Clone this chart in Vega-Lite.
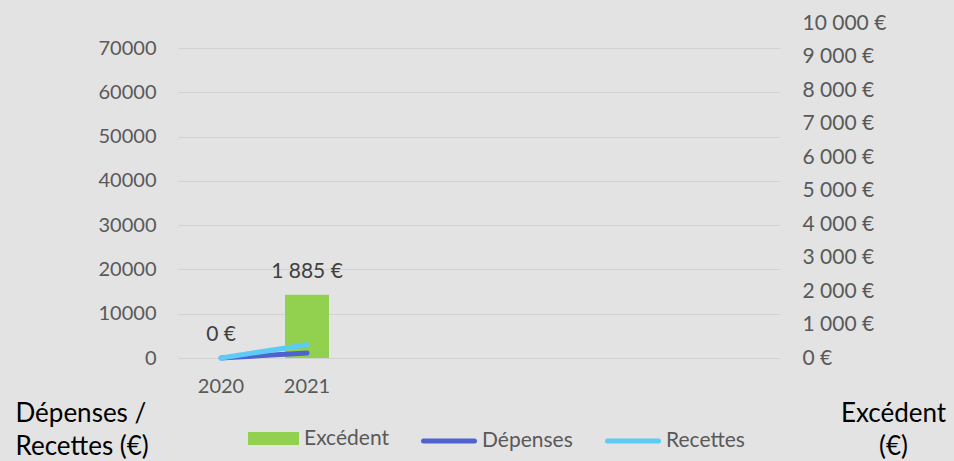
{
  "$schema": "https://vega.github.io/schema/vega-lite/v6.json",
  "width": 602,
  "height": 335,
  "autosize": {"type": "none"},
  "padding": {"left": 178, "top": 23, "right": 174, "bottom": 103},
  "background": "#e3e3e3",
  "config": {
    "font": "Lato",
    "view": {"stroke": null},
    "locale": {"number": {"decimal": ",", "thousands": " ", "grouping": [3], "currency": ["", " €"]}}
  },
  "data": {
    "values": [
      {"year": "2020", "serie": "Excédent", "value": 0},
      {"year": "2021", "serie": "Excédent", "value": 1885},
      {"year": "2020", "serie": "Dépenses", "value": 0},
      {"year": "2021", "serie": "Dépenses", "value": 1115},
      {"year": "2020", "serie": "Recettes", "value": 0},
      {"year": "2021", "serie": "Recettes", "value": 3000}
    ]
  },
  "encoding": {
    "x": {
      "field": "year",
      "type": "ordinal",
      "scale": {"domain": ["2020", "2021", "2022", "2023", "2024", "2025", "2026"], "paddingInner": 0.49, "paddingOuter": 0.245},
      "axis": {
        "title": null,
        "labelAngle": 0,
        "labelExpr": "datum.value <= '2021' ? datum.label : ''",
        "labelFontSize": 20,
        "labelColor": "#595959",
        "labelPadding": 18,
        "domain": false,
        "ticks": false,
        "grid": false
      }
    }
  },
  "layer": [
    {
      "transform": [{"filter": "datum.serie === 'Excédent'"}],
      "encoding": {
        "y": {
          "field": "value",
          "type": "quantitative",
          "scale": {"domain": [0, 10000], "nice": false},
          "axis": {
            "orient": "right",
            "values": [0, 1000, 2000, 3000, 4000, 5000, 6000, 7000, 8000, 9000, 10000],
            "format": "$,d",
            "labelFontSize": 21,
            "labelColor": "#595959",
            "labelPadding": 22,
            "labelAlign": "left",
            "domain": false,
            "ticks": false,
            "grid": false,
            "title": ["Excédent", "(€)"],
            "titleAngle": 0,
            "titleX": 113,
            "titleY": 398,
            "titleAlign": "center",
            "titleBaseline": "alphabetic",
            "titleFontSize": 26,
            "titleFontWeight": "normal",
            "titleColor": "#000000",
            "titleLineHeight": 33
          }
        }
      },
      "layer": [
        {
          "mark": {"type": "bar", "width": 44},
          "encoding": {
            "fill": {
              "field": "serie",
              "type": "nominal",
              "scale": {"domain": ["Excédent"], "range": ["#92d050"]},
              "legend": {
                "title": null,
                "orient": "none",
                "direction": "horizontal",
                "legendX": 70,
                "legendY": 390,
                "symbolType": "M-1,-0.255H1V0.255H-1Z",
                "symbolSize": 2601,
                "symbolStrokeWidth": 0,
                "labelFontSize": 21,
                "labelColor": "#595959",
                "labelOffset": 5
              }
            }
          }
        },
        {
          "mark": {"type": "text", "dy": -23, "fontSize": 21, "color": "#404040", "baseline": "middle"},
          "encoding": {
            "text": {"field": "value", "type": "quantitative", "format": "$,d"}
          }
        }
      ]
    },
    {
      "transform": [{"filter": "datum.serie !== 'Excédent'"}],
      "mark": {"type": "line", "strokeWidth": 5, "strokeCap": "round"},
      "encoding": {
        "y": {
          "field": "value",
          "type": "quantitative",
          "scale": {"domain": [0, 75650], "nice": false},
          "axis": {
            "orient": "left",
            "values": [0, 10000, 20000, 30000, 40000, 50000, 60000, 70000],
            "format": "d",
            "labelFontSize": 20,
            "labelColor": "#595959",
            "labelPadding": 22,
            "domain": false,
            "ticks": false,
            "grid": true,
            "gridColor": "#d2d2d2",
            "gridWidth": 1,
            "title": ["Dépenses /", "Recettes (€)"],
            "titleAngle": 0,
            "titleX": -163,
            "titleY": 398,
            "titleAlign": "left",
            "titleBaseline": "alphabetic",
            "titleFontSize": 26,
            "titleFontWeight": "normal",
            "titleColor": "#000000",
            "titleLineHeight": 33
          }
        },
        "stroke": {
          "field": "serie",
          "type": "nominal",
          "scale": {"domain": ["Dépenses", "Recettes"], "range": ["#4e63cf", "#5ccbf5"]},
          "legend": {
            "title": null,
            "orient": "none",
            "direction": "horizontal",
            "legendX": 243,
            "legendY": 390,
            "symbolType": "stroke",
            "symbolSize": 2601,
            "symbolStrokeWidth": 5,
            "labelFontSize": 21,
            "labelColor": "#595959",
            "labelOffset": 5,
            "columnPadding": 24,
            "encode": {"symbols": {"update": {"strokeCap": {"value": "round"}}}}
          }
        }
      }
    }
  ],
  "resolve": {"scale": {"y": "independent"}}
}
